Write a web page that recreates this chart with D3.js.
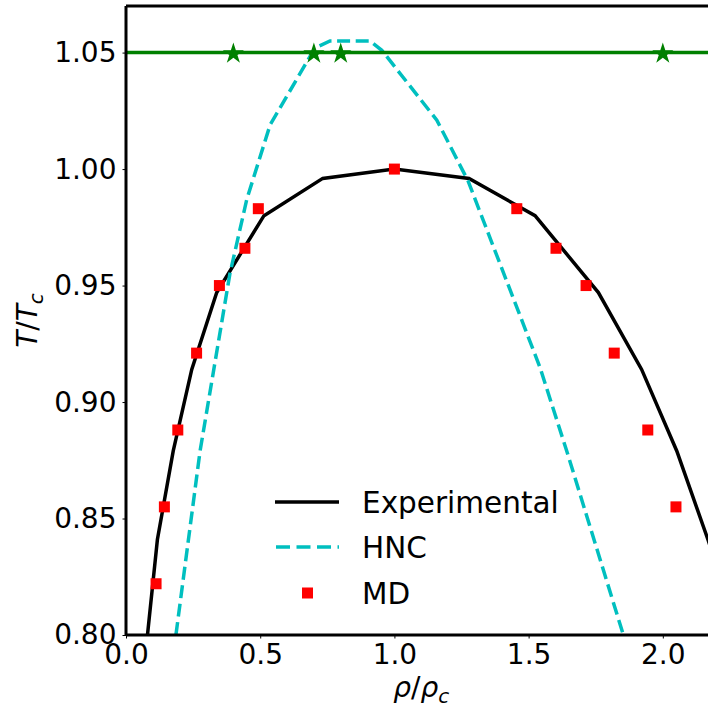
<!DOCTYPE html>
<html>
<head>
<meta charset="utf-8">
<script src="https://cdn.jsdelivr.net/npm/d3@7"></script>
<style>
  body { margin: 0; background: #fff; }
  text { font-family: "DejaVu Sans", sans-serif; }
</style>
</head>
<body>
<div id="chart"></div>
<script>
const width = 708
const height = 710
const margin = {top: 6, left: 126}
const plotW = 590.5
const plotH = 629

// datos
const expRho = [0.080, 0.117, 0.176, 0.245, 0.338, 0.514, 0.733, 1.000, 1.278, 1.524, 1.760, 1.921, 2.052, 2.168, 2.290]
const expT   = [0.800, 0.841, 0.879, 0.914, 0.947, 0.980, 0.996, 1.000, 0.996, 0.980, 0.947, 0.914, 0.879, 0.841, 0.800]

const hncRho = [0.186, 0.276, 0.387, 0.450, 0.537, 0.704, 0.760, 0.909, 0.953, 1.158, 1.274, 1.542, 1.642, 1.853]
const hncT   = [0.800, 0.879, 0.955, 0.987, 1.019, 1.052, 1.055, 1.055, 1.051, 1.021, 0.995, 0.915, 0.879, 0.800]

const mdRho = [0.112, 0.143, 0.193, 0.263, 0.348, 0.443, 0.493, 1.000, 1.456, 1.602, 1.714, 1.819, 1.944, 2.049]
const mdT   = [0.822, 0.855, 0.888, 0.921, 0.950, 0.966, 0.983, 1.000, 0.983, 0.966, 0.950, 0.921, 0.888, 0.855]

const starRho = [0.4, 0.7, 0.8, 2.0]
const starT = 1.05

const xTicks = [0.0, 0.5, 1.0, 1.5, 2.0]
const yTicks = [0.80, 0.85, 0.90, 0.95, 1.00, 1.05]

const x = d3.scaleLinear().domain([0, 2.2]).range([0, plotW])
const y = d3.scaleLinear().domain([0.8, 1.07]).range([plotH, 0])

const svg = d3.select("#chart").append("svg").attr("width", width).attr("height", height)
svg.append("defs").append("clipPath").attr("id", "clip")
  .append("rect").attr("width", plotW).attr("height", plotH)

const g = svg.append("g").attr("transform", `translate(${margin.left}, ${margin.top})`)
const plot = g.append("g").attr("clip-path", "url(#clip)")

const line = d3.line().x(d => x(d[0])).y(d => y(d[1]))

// experimental
plot.append("path")
  .attr("d", line(expRho.map((r, i) => [r, expT[i]])))
  .attr("fill", "none").attr("stroke", "#000").attr("stroke-width", 3.5)
  .attr("stroke-linejoin", "miter")

// HNC
plot.append("path")
  .attr("d", line(hncRho.map((r, i) => [r, hncT[i]])))
  .attr("fill", "none").attr("stroke", "#00bfbf").attr("stroke-width", 3.5)
  .attr("stroke-dasharray", "13,5.6")

// MD
plot.selectAll("rect.md").data(mdRho.map((r, i) => [r, mdT[i]])).join("rect")
  .attr("class", "md")
  .attr("x", d => x(d[0]) - 5.5).attr("y", d => y(d[1]) - 5.5)
  .attr("width", 11).attr("height", 11).attr("fill", "#ff0000")

// linea verde con estrellas
plot.append("path")
  .attr("d", line([[0, starT], [2.2, starT]]))
  .attr("fill", "none").attr("stroke", "#008000").attr("stroke-width", 3.5)

plot.selectAll("path.star").data(starRho).join("path")
  .attr("class", "star")
  .attr("transform", d => `translate(${x(d)}, ${y(starT) + 1})`)
  .attr("d", d3.symbol().type(d3.symbolStar).size(140))
  .attr("fill", "#008000")

// ejes
const xAxis = d3.axisBottom(x).tickValues(xTicks).tickFormat(d3.format(".1f")).tickSizeOuter(0).tickSize(3.5).tickPadding(6)
const yAxis = d3.axisLeft(y).tickValues(yTicks).tickFormat(d3.format(".2f")).tickSizeOuter(0).tickSize(3.5).tickPadding(6)

const xg = g.append("g").attr("transform", `translate(0, ${plotH})`).call(xAxis)
const yg = g.append("g").call(yAxis)
;[xg, yg].forEach(a => {
  a.select(".domain").remove()
  a.selectAll(".tick line").attr("stroke", "#000").attr("stroke-width", 1)
  a.selectAll(".tick text").attr("font-size", 28).attr("fill", "#000").attr("font-family", "DejaVu Sans")
})

// bordes
g.append("line").attr("x1", 0).attr("x2", plotW).attr("y1", 0).attr("y2", 0).attr("stroke", "#000").attr("stroke-width", 3)
g.append("line").attr("x1", 0).attr("x2", plotW).attr("y1", plotH).attr("y2", plotH).attr("stroke", "#000").attr("stroke-width", 3)
g.append("line").attr("x1", 0).attr("x2", 0).attr("y1", 0).attr("y2", plotH).attr("stroke", "#000").attr("stroke-width", 3)
g.append("line").attr("x1", plotW).attr("x2", plotW).attr("y1", 0).attr("y2", plotH).attr("stroke", "#000").attr("stroke-width", 3)

// etiquetas
const xl = svg.append("text").attr("x", margin.left + plotW / 2).attr("y", 697)
  .attr("text-anchor", "middle").attr("font-size", 28)
xl.append("tspan").attr("font-style", "italic").text("ρ")
xl.append("tspan").text("/")
xl.append("tspan").attr("font-style", "italic").text("ρ")
xl.append("tspan").attr("font-style", "italic").attr("font-size", 20).attr("dy", 6).text("c")

const yl = svg.append("text").attr("transform", `translate(37, ${margin.top + plotH / 2}) rotate(-90)`)
  .attr("text-anchor", "middle").attr("font-size", 28)
yl.append("tspan").attr("font-style", "italic").text("T")
yl.append("tspan").text("/")
yl.append("tspan").attr("font-style", "italic").text("T")
yl.append("tspan").attr("font-style", "italic").attr("font-size", 20).attr("dy", 6).text("c")

// leyenda
const legend = svg.append("g")
const items = [
  {label: "Experimental", type: "solid", y: 502},
  {label: "HNC", type: "dash", y: 547},
  {label: "MD", type: "square", y: 593}
]
items.forEach(it => {
  if (it.type === "solid") {
    legend.append("line").attr("x1", 275).attr("x2", 339).attr("y1", it.y).attr("y2", it.y)
      .attr("stroke", "#000").attr("stroke-width", 3.5)
  } else if (it.type === "dash") {
    legend.append("line").attr("x1", 276).attr("x2", 339).attr("y1", it.y).attr("y2", it.y)
      .attr("stroke", "#00bfbf").attr("stroke-width", 3.5).attr("stroke-dasharray", "14,6.5")
  } else {
    legend.append("rect").attr("x", 302).attr("y", it.y - 5.5).attr("width", 11).attr("height", 11).attr("fill", "#ff0000")
  }
  legend.append("text").attr("x", 362).attr("y", it.y + 11).attr("font-size", 29.5).attr("fill", "#000").text(it.label)
})
</script>
</body>
</html>
